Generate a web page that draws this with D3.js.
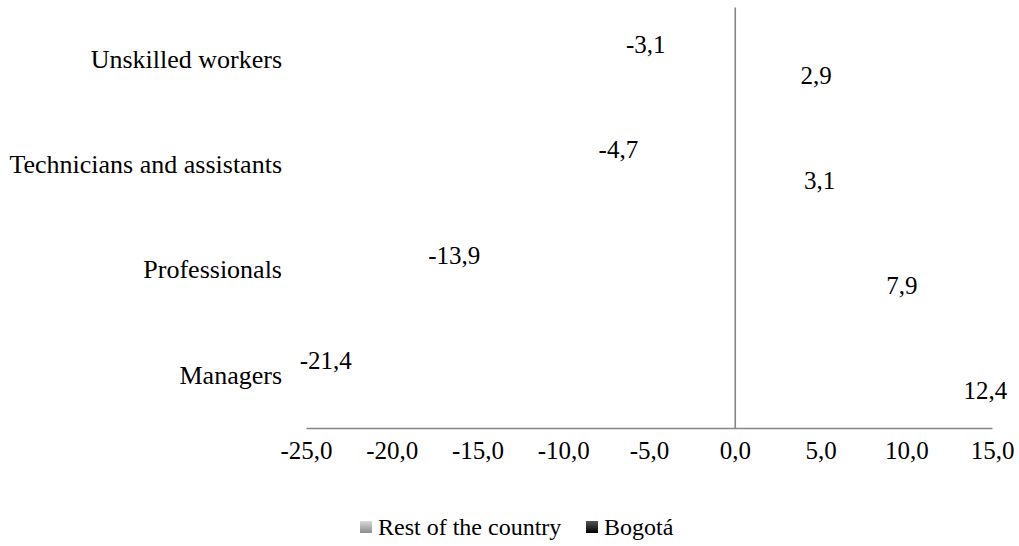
<!DOCTYPE html>
<html>
<head>
<meta charset="utf-8">
<script src="https://cdn.jsdelivr.net/npm/d3@7"></script>
<style>
  html, body { margin: 0; padding: 0; background: #fff; }
  svg { display: block; }
  svg text { font-family: "Liberation Serif", "Times New Roman", serif; }
</style>
</head>
<body>
<svg id="chart" width="1019" height="546"></svg>
<script>
// ---- Data ----
const categories = ["Unskilled workers", "Technicians and assistants", "Professionals", "Managers"];
const seriesNames = ["Rest of the country", "Bogotá"];
const restOfCountry = [2.9, 3.1, 7.9, 12.4];
const bogota = [-3.1, -4.7, -13.9, -21.4];
const xTicks = [-25, -20, -15, -10, -5, 0, 5, 10, 15];

const rows = categories.map((c, i) => ({ cat: c, "Rest of the country": restOfCountry[i], "Bogotá": bogota[i] }));

const locale = d3.formatLocale({ decimal: ",", thousands: ".", grouping: [3], currency: ["", "€"], minus: "-" });
const fmt = locale.format(".1f");

const svg = d3.select("#chart");
const plotLeft = 306, plotRight = 992, plotTop = 7, plotBottom = 428;

const x = d3.scaleLinear().domain([-25, 15]).range([plotLeft, plotRight]);
const y0 = d3.scaleBand().domain(categories).range([plotTop, plotBottom]).paddingInner(0.42).paddingOuter(0.21);
const y1 = d3.scaleBand().domain(["Bogotá", "Rest of the country"]).range([0, y0.bandwidth()]);

// bars (white, as in the reference where they are not visible)
const g = svg.append("g");
rows.forEach(r => {
  seriesNames.forEach(s => {
    const v = r[s];
    g.append("rect")
      .attr("x", x(Math.min(0, v)))
      .attr("y", y0(r.cat) + y1(s))
      .attr("width", Math.abs(x(v) - x(0)))
      .attr("height", y1.bandwidth())
      .attr("fill", "#ffffff");
    const isNeg = v < 0;
    g.append("text")
      .attr("x", isNeg ? x(v) - 16 : x(v) + 16)
      .attr("y", y0(r.cat) + y1(s) + y1.bandwidth() / 2)
      .attr("dy", "0.35em")
      .attr("text-anchor", isNeg ? "end" : "start")
      .attr("font-size", 25)
      .attr("fill", "#000")
      .text(fmt(v));
  });
});

// horizontal axis line
const xAxis = d3.axisBottom(x).tickValues(xTicks).tickFormat(fmt).tickSize(0).tickPadding(13);
const ax = svg.append("g").attr("transform", `translate(0,${plotBottom})`).call(xAxis);
ax.attr("font-family", null);
ax.select(".domain").attr("stroke", "#868686").attr("stroke-width", 1.6);
ax.selectAll("text").attr("font-size", 25).attr("fill", "#000");

// vertical axis at zero, category labels
const yAxis = d3.axisLeft(y0).tickSize(0).tickPadding(0);
const ay = svg.append("g").attr("transform", `translate(${x(0)},0)`).call(yAxis);
ay.attr("font-family", null);
ay.select(".domain").attr("stroke", "#868686").attr("stroke-width", 1.6);
ay.selectAll("text")
  .attr("x", 282 - x(0))
  .attr("font-size", 26).attr("fill", "#000");

// legend
const defs = svg.append("defs");
const grad = defs.append("linearGradient").attr("id", "lg1").attr("x1", 0).attr("y1", 0).attr("x2", 0).attr("y2", 1);
grad.append("stop").attr("offset", "0%").attr("stop-color", "#d9d9d9");
grad.append("stop").attr("offset", "100%").attr("stop-color", "#8c8c8c");
const grad2 = defs.append("linearGradient").attr("id", "lg2").attr("x1", 0).attr("y1", 0).attr("x2", 0).attr("y2", 1);
grad2.append("stop").attr("offset", "0%").attr("stop-color", "#555");
grad2.append("stop").attr("offset", "100%").attr("stop-color", "#000");
const legendItems = [
  { name: seriesNames[0], fill: "url(#lg1)", x: 360 },
  { name: seriesNames[1], fill: "url(#lg2)", x: 586 }
];
const lg = svg.append("g");
legendItems.forEach(it => {
  lg.append("rect").attr("x", it.x).attr("y", 521).attr("width", 12).attr("height", 12).attr("fill", it.fill);
  lg.append("text").attr("x", it.x + 18).attr("y", 527).attr("dy", "0.35em")
    .attr("font-size", 24).attr("fill", "#000").text(it.name);
});
</script>
</body>
</html>
